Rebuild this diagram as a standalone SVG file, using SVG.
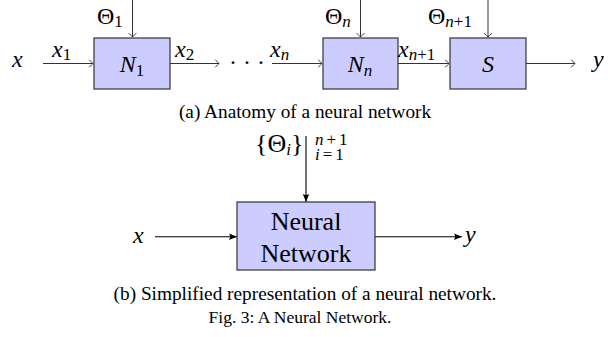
<svg xmlns="http://www.w3.org/2000/svg" width="608" height="337" viewBox="0 0 608 337">
<defs>
<marker id="open" markerUnits="userSpaceOnUse" markerWidth="10" markerHeight="10" refX="0" refY="0" viewBox="-6 -5 8 10" orient="auto" overflow="visible">
<path d="M-3.5,-3.5 Q-0.8,-0.8 0,0 Q-0.8,0.8 -3.5,3.5" fill="none" stroke="#333" stroke-width="1" stroke-linecap="round"/>
</marker>
<marker id="solid" markerUnits="userSpaceOnUse" markerWidth="10" markerHeight="10" refX="0" refY="0" viewBox="-9 -5 10 10" orient="auto" overflow="visible">
<path d="M0,0 L-8,-3.2 Q-6,0 -8,3.2 Z" fill="#000"/>
</marker>
</defs>
<style>
.box{fill:#ccccff;stroke:#333;stroke-width:1.2}
.ca{fill:none;stroke:#333;stroke-width:1}
.cb{fill:none;stroke:#000;stroke-width:1.1}
</style>
<g id="connectors">
<line class="ca" x1="43" y1="63.5" x2="93" y2="63.5" marker-end="url(#open)"/>
<line class="ca" x1="170" y1="63.5" x2="219" y2="63.5" marker-end="url(#open)"/>
<line class="ca" x1="272" y1="63.5" x2="322" y2="63.5" marker-end="url(#open)"/>
<line class="ca" x1="398" y1="63.5" x2="449" y2="63.5" marker-end="url(#open)"/>
<line class="ca" x1="526" y1="63.5" x2="575" y2="63.5" marker-end="url(#open)"/>
<line class="ca" x1="132.5" y1="0" x2="132.5" y2="37" marker-end="url(#open)"/>
<line class="ca" x1="360.5" y1="0" x2="360.5" y2="37" marker-end="url(#open)"/>
<line class="ca" x1="488" y1="0" x2="488" y2="37" marker-end="url(#open)"/>
<line class="cb" x1="306" y1="136" x2="306" y2="202" marker-end="url(#solid)"/>
<line class="cb" x1="155" y1="236.7" x2="237" y2="236.7" marker-end="url(#solid)"/>
<line class="cb" x1="375" y1="236.7" x2="462" y2="236.7" marker-end="url(#solid)"/>
</g>
<g font-family="Liberation Serif" fill="#000">
<g id="N1">
<rect class="box" x="94" y="38" width="76" height="51"/>
<text x="132" y="72" text-anchor="middle" font-size="24" font-style="italic">N<tspan font-size="17" dy="4" font-style="normal">1</tspan></text>
</g>
<g id="Nn">
<rect class="box" x="323" y="38" width="75" height="51"/>
<text x="360" y="72" text-anchor="middle" font-size="24" font-style="italic">N<tspan font-size="17" dy="4">n</tspan></text>
</g>
<g id="S">
<rect class="box" x="450" y="38" width="76" height="51"/>
<text x="488" y="72" text-anchor="middle" font-size="24" font-style="italic">S</text>
</g>
<g id="NeuralNetwork">
<rect class="box" x="237" y="202" width="138" height="68"/>
<text x="306" y="230" text-anchor="middle" font-size="26">Neural</text>
<text x="306" y="262" text-anchor="middle" font-size="26">Network</text>
</g>
<g id="labels" font-size="24">
<text x="12" y="67" font-style="italic">x</text>
<text x="52" y="57" font-style="italic">x<tspan font-size="17" dy="3" font-style="normal">1</tspan></text>
<text x="175" y="57" font-style="italic">x<tspan font-size="17" dy="3" font-style="normal">2</tspan></text>
<text x="270" y="57" font-style="italic">x<tspan font-size="17" dy="3">n</tspan></text>
<text x="398" y="57" font-style="italic">x<tspan font-size="17" dy="3">n</tspan><tspan font-size="17" font-style="normal">+1</tspan></text>
<text x="593" y="67" font-style="italic">y</text>
<text x="229" y="70" letter-spacing="6">···</text>
<text x="97" y="24">Θ<tspan font-size="17" dy="3">1</tspan></text>
<text x="325" y="24">Θ<tspan font-size="17" dy="3" font-style="italic">n</tspan></text>
<text x="428" y="24">Θ<tspan font-size="17" dy="3" font-style="italic">n</tspan><tspan font-size="17">+1</tspan></text>
<text x="255" y="152" font-size="26">{Θ<tspan font-size="17" dy="3" font-style="italic">i</tspan><tspan dy="-3">}</tspan></text>
<text x="315" y="145" font-size="17" letter-spacing="3"><tspan font-style="italic">n</tspan>+1</text>
<text x="315" y="160" font-size="17" letter-spacing="3"><tspan font-style="italic">i</tspan>=1</text>
<text x="133" y="243" font-style="italic">x</text>
<text x="465" y="242" font-style="italic">y</text>
</g>
<g id="captions">
<text x="305" y="118" text-anchor="middle" font-size="19.3">(a) Anatomy of a neural network</text>
<text x="305" y="300" text-anchor="middle" font-size="19.3">(b) Simplified representation of a neural network.</text>
<text x="300" y="323" text-anchor="middle" font-size="17.5">Fig. 3: A Neural Network.</text>
</g>
</g>
</svg>
